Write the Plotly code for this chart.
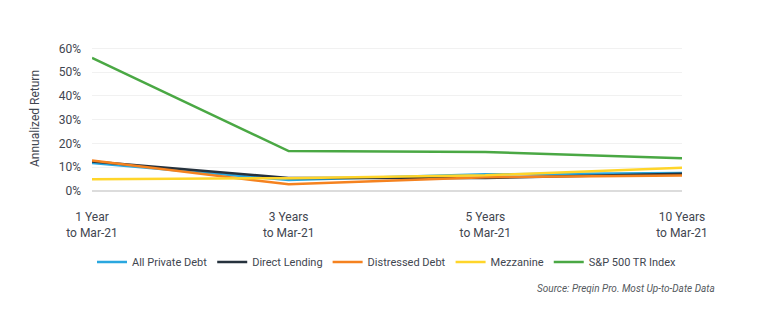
import plotly.graph_objects as go

# Horizon categories (x axis)
horizons = ["1 Year<br>to Mar-21", "3 Years<br>to Mar-21", "5 Years<br>to Mar-21", "10 Years<br>to Mar-21"]

# Annualized returns (%) by strategy
all_private_debt = [11.8, 4.6, 7.0, 7.6]
direct_lending = [12.4, 5.5, 5.5, 7.3]
distressed_debt = [12.8, 2.8, 5.8, 6.5]
mezzanine = [4.9, 5.4, 6.6, 9.8]
sp500_tr = [56.0, 16.8, 16.4, 13.8]

series = [
    ("All Private Debt", all_private_debt, "#2aa7df"),
    ("Direct Lending", direct_lending, "#26323d"),
    ("Distressed Debt", distressed_debt, "#f5821f"),
    ("Mezzanine", mezzanine, "#ffd52a"),
    ("S&P 500 TR Index", sp500_tr, "#4aa844"),
]

y_ticks = [0, 10, 20, 30, 40, 50, 60]
y_tick_labels = ["0%", "10%", "20%", "30%", "40%", "50%", "60%"]

FONT = "Roboto"
TEXT = "#3f4650"

fig = go.Figure()
for name, vals, color in series:
    fig.add_trace(go.Scatter(
        x=horizons, y=vals, name=name, mode="lines",
        line=dict(color=color, width=2.5),
    ))

fig.update_layout(
    width=765, height=326,
    margin=dict(l=92, r=83, t=46, b=135),
    paper_bgcolor="white", plot_bgcolor="white",
    font=dict(family=FONT, size=12, color=TEXT),
    showlegend=True,
    legend=dict(
        orientation="h", x=0.5, xanchor="center", y=-0.49, yanchor="middle",
        font=dict(family=FONT, size=11, color=TEXT),
        itemwidth=30, tracegroupgap=0,
    ),
    xaxis=dict(
        type="category", range=[0, 3], showgrid=False, zeroline=False,
        showline=False, ticks="", ticklabelstandoff=17,
        tickfont=dict(family=FONT, size=12, color=TEXT),
    ),
    yaxis=dict(
        range=[0, 61], tickvals=y_ticks, ticktext=y_tick_labels,
        showgrid=True, gridcolor="#f1f1f1", gridwidth=1,
        zeroline=True, zerolinecolor="#dcdcdc", zerolinewidth=2,
        showline=False, ticks="", ticklabelstandoff=10,
        tickfont=dict(family=FONT, size=12, color=TEXT),
        title=dict(text="Annualized Return", standoff=16,
                   font=dict(family=FONT, size=12, color=TEXT)),
    ),
    annotations=[dict(
        text="<i>Source: Preqin Pro. Most Up-to-Date Data</i>",
        xref="paper", yref="paper", x=1.06, y=-0.675,
        xanchor="right", yanchor="middle", showarrow=False,
        font=dict(family=FONT, size=10, color="#555a60"),
    )],
)

fig.write_html("out.html")
